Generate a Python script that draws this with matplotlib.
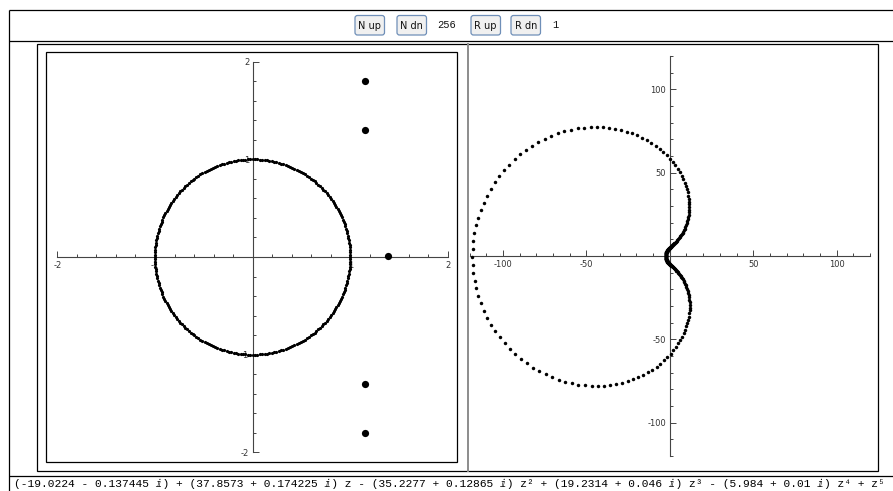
import numpy as np
import matplotlib
matplotlib.use("Agg")
import matplotlib.pyplot as plt
from matplotlib.patches import FancyBboxPatch, Rectangle
from matplotlib.ticker import MultipleLocator, FixedLocator

W, H = 893, 491

# polynomial p(z) = sum a_k z^k, lowest power first
coef_re = [-19.0224, 37.8573, -35.2277, 19.2314, -5.984, 1.0]
coef_im = [-0.137445, 0.174225, -0.12865, 0.046, -0.01, 0.0]

n_points = 256
radius = 1

left_ticks = [-2, -1, 1, 2]
right_ticks = [-100, -50, 50, 100]

coeffs = np.array(coef_re) + 1j * np.array(coef_im)
theta = 2 * np.pi * np.arange(n_points) / n_points
z = radius * np.exp(1j * theta)
w = np.polyval(coeffs[::-1], z)
roots = np.roots(coeffs[::-1])


def poly_text():
    sup = {2: "\u00b2", 3: "\u00b3", 4: "\u2074", 5: "\u2075"}
    parts = []
    for k, (re, im) in enumerate(zip(coef_re, coef_im)):
        pw = "" if k == 0 else (" z" if k == 1 else " z" + sup[k])
        if k == 0:
            s = "-" if im < 0 else "+"
            parts.append(f"({re:g} {s} {abs(im):g} \u2148)")
            continue
        sign = "-" if re < 0 else "+"
        if im == 0 and abs(re) == 1:
            parts.append(f" {sign} {pw.strip()}")
            continue
        inner = "-" if im * re < 0 else "+"
        parts.append(f" {sign} ({abs(re):g} {inner} {abs(im):g} \u2148){pw}")
    return "".join(parts)


fig = plt.figure(figsize=(W / 100, H / 100), dpi=100)
fig.patch.set_facecolor("white")

# page chrome drawn in pixel coordinates
bg = fig.add_axes([0, 0, 1, 1])
bg.set_xlim(0, W)
bg.set_ylim(H, 0)
bg.axis("off")

lk = dict(color="black", lw=0.9, solid_capstyle="butt")
bg.plot([8.5, W], [9.5, 9.5], **lk)
bg.plot([8.5, 8.5], [9.5, H], **lk)
bg.plot([8.5, W], [40.5, 40.5], **lk)
bg.plot([8.5, W], [475.5, 475.5], **lk)
bg.add_patch(Rectangle((36.5, 43.5), 841, 427, fill=False, ec="black", lw=0.9))
bg.plot([467.5, 467.5], [43.5, 470.5], color="#8c8c8c", lw=1.4)
bg.add_patch(Rectangle((45.5, 51.5), 411.5, 410.5, fill=False, ec="black", lw=0.9))

# control row
for x0, label in [(355, "N up"), (397, "N dn"), (471, "R up"), (511, "R dn")]:
    bg.add_patch(FancyBboxPatch((x0, 15.5), 29.5, 19.5,
                                boxstyle="round,pad=0,rounding_size=2.5",
                                fc="#f0f0f0", ec="#6f8fb8", lw=0.9))
    bg.text(x0 + 14.75, 25.5, label, ha="center", va="center",
            fontsize=7, family="DejaVu Sans", color="#111")
bg.text(447, 24.5, str(n_points), ha="center", va="center", fontsize=7.5,
        family=["Liberation Mono", "DejaVu Sans Mono"], color="#111")
bg.text(555, 24.5, str(radius), ha="center", va="center", fontsize=7.5,
        family=["Liberation Mono", "DejaVu Sans Mono"], color="#111")

bg.text(14, 483.5, poly_text(), ha="left", va="center", fontsize=8.1,
        family=["Liberation Mono", "DejaVu Sans Mono", "DejaVu Sans"], color="black")


def px_axes(x0, y0, x1, y1):
    ax = fig.add_axes([x0 / W, 1 - y1 / H, (x1 - x0) / W, (y1 - y0) / H])
    ax.set_facecolor("none")
    return ax


def style_axes(ax, lim, major, minor):
    ax.set_xlim(-lim, lim)
    ax.set_ylim(-lim, lim)
    for s in ("top", "right"):
        ax.spines[s].set_visible(False)
    for s in ("left", "bottom"):
        ax.spines[s].set_position("zero")
        ax.spines[s].set_color("#444")
        ax.spines[s].set_linewidth(0.8)
    for axis in (ax.xaxis, ax.yaxis):
        axis.set_major_locator(FixedLocator(major))
        axis.set_minor_locator(MultipleLocator(minor))
    ax.set_xticklabels([f"{t:g}" for t in major])
    ax.set_yticklabels([f"{t:g}" for t in major])
    ax.tick_params(which="both", direction="in", color="#444", width=0.7,
                   labelsize=6, labelcolor="#333")
    ax.tick_params(which="major", length=4.5)
    ax.tick_params(which="minor", length=2.2)
    ax.tick_params(axis="x", pad=3)
    ax.tick_params(axis="y", pad=2.5)


# left: sample points on the circle and the roots of p
axl = px_axes(57.3, 61.6, 448.0, 452.4)
style_axes(axl, 2, left_ticks, 0.2)
axl.plot(z.real, z.imag, "o", ms=2.3, mfc="black", mec="black", mew=0, zorder=3)
axl.plot(roots.real, roots.imag, "o", ms=5.2, mfc="black", mec="black", mew=0, zorder=3)

# right: image of the circle under p
axr = px_axes(469.6, 56.0, 870.0, 456.0)
style_axes(axr, 120, right_ticks, 10)
axr.plot(w.real, w.imag, "o", ms=2.5, mfc="black", mec="black", mew=0, zorder=3)

fig.savefig("out.png", dpi=100, facecolor="white")
